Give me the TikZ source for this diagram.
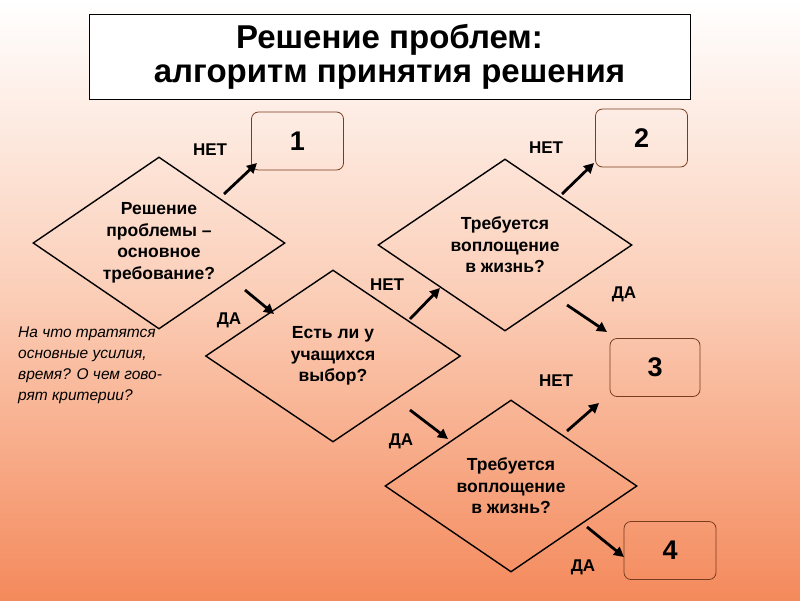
\documentclass[tikz,border=0pt]{standalone}
\usepackage{fontspec}
\setmainfont{Liberation Sans}
\usetikzlibrary{shapes.geometric,arrows.meta}
\definecolor{org}{RGB}{244,138,92}
\definecolor{peach}{RGB}{251,205,182}
\definecolor{bord}{RGB}{120,60,30}
\tikzset{
  dia/.style={diamond,draw,line width=1.4pt,minimum width=#1,minimum height=172pt,aspect=1.47,inner sep=0pt,align=center,font=\bfseries\fontsize{17.5}{21.5}\selectfont},
  box/.style={draw=bord,line width=0.8pt,rounded corners=7pt,minimum width=92pt,minimum height=58pt,font=\bfseries\fontsize{27}{30}\selectfont},
  lbl/.style={font=\bfseries\fontsize{17}{20}\selectfont},
  arr/.style={line width=2.8pt,-{Triangle[length=10pt,width=10pt]}}
}
\begin{document}
\begin{tikzpicture}[x=1pt,y=-1pt]
\useasboundingbox (0,0) rectangle (800,600);
\shade[top color=white,bottom color=org,middle color=peach] (0,0) rectangle (800,600);
\node[draw,line width=0.6pt,fill=white,minimum width=601pt,minimum height=85pt,align=center,font=\bfseries\fontsize{33}{34}\selectfont] (title) at (389.5,56.5) {Решение проблем:\\алгоритм принятия решения};
\node[dia=252pt] (d1) at (159,243) {Решение\\проблемы –\\основное\\требование?};
\node[dia=255pt] (d2) at (333,356) {Есть ли у\\ учащихся\\выбор?};
\node[dia=254pt] (d3) at (505,245) {Требуется\\воплощение\\в жизнь?};
\node[dia=252pt] (d4) at (511,486) {Требуется\\воплощение\\в жизнь?};
\node[box] (b1) at (297.5,141) {1};
\node[box] (b2) at (641.5,138) {2};
\node[box,minimum width=90pt] (b3) at (655,367.5) {3};
\node[box] (b4) at (670,550.5) {4};
\coordinate (n1s) at (224,194); \coordinate (n1e) at (257,163);
\coordinate (y1s) at (245,290); \coordinate (y1e) at (274,314);
\coordinate (n2s) at (410,319); \coordinate (n2e) at (440,288);
\coordinate (n3s) at (562,194); \coordinate (n3e) at (594,163);
\coordinate (y3s) at (567,305); \coordinate (y3e) at (607,332);
\coordinate (y2s) at (410,410); \coordinate (y2e) at (448,439);
\coordinate (n4s) at (567,431); \coordinate (n4e) at (599,403);
\coordinate (y4s) at (587,527); \coordinate (y4e) at (624,557);
\foreach \a in {n1,y1,n2,n3,y3,y2,n4,y4} \draw[arr] (\a s) -- (\a e);
\node[lbl] (t1) at (210,150) {НЕТ};
\node[lbl] (t2) at (229,320) {ДА};
\node[lbl] (t3) at (387,285) {НЕТ};
\node[lbl] (t4) at (546,148) {НЕТ};
\node[lbl] (t5) at (624,294) {ДА};
\node[lbl] (t6) at (401,441) {ДА};
\node[lbl] (t7) at (556,381) {НЕТ};
\node[lbl] (t8) at (583,567) {ДА};
\node[anchor=north west,align=left,inner sep=0pt,font=\itshape\fontsize{15.5}{21}\selectfont] (note) at (18,327) {На что тратятся\\основные усилия,\\время? О чем гово-\\рят критерии?};
\end{tikzpicture}
\end{document}
